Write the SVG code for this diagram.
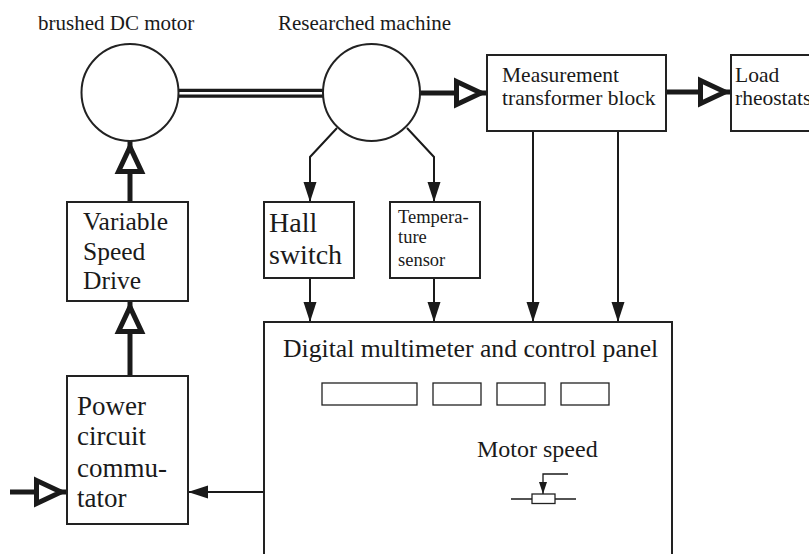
<svg xmlns="http://www.w3.org/2000/svg" width="809" height="554" viewBox="0 0 809 554">
<style>
.box{fill:#fff;stroke:#222;stroke-width:2}
.thin{fill:#fff;stroke:#222;stroke-width:1.3}
.t{font-family:"Liberation Serif","Times New Roman",serif;fill:#1a1a1a}
.w{fill:none;stroke:#1a1a1a;stroke-width:2}
.thick{fill:none;stroke:#1a1a1a;stroke-width:5}
</style>
<defs>
<marker id="fa" markerUnits="userSpaceOnUse" markerWidth="20" markerHeight="13" refX="20" refY="6.5" orient="auto" overflow="visible">
<path d="M0,0 L20,6.5 L0,13 z" fill="#1a1a1a"/>
</marker>
<marker id="fs" markerUnits="userSpaceOnUse" markerWidth="12" markerHeight="8" refX="12" refY="4" orient="auto" overflow="visible">
<path d="M0,0 L12,4 L0,8 z" fill="#1a1a1a"/>
</marker>
<marker id="oa" markerUnits="userSpaceOnUse" markerWidth="34" markerHeight="28" refX="33" refY="14" orient="auto" overflow="visible">
<path d="M2.5,2.5 L27,14 L2.5,25.5 z" fill="#fff" stroke="#1a1a1a" stroke-width="5"/>
</marker>
</defs>

<g id="connectors">
<line x1="178" y1="93.3" x2="323" y2="93.3" stroke="#1a1a1a" stroke-width="9"/>
<line x1="178" y1="93.3" x2="323" y2="93.3" stroke="#fff" stroke-width="2.6"/>
<line class="thick" x1="130" y1="202" x2="130" y2="141" marker-end="url(#oa)"/>
<line class="thick" x1="130" y1="376" x2="130" y2="301" marker-end="url(#oa)"/>
<line class="thick" x1="10" y1="492" x2="67" y2="492" marker-end="url(#oa)"/>
<line class="thick" x1="420" y1="93" x2="487" y2="93" marker-end="url(#oa)"/>
<line class="thick" x1="666" y1="92" x2="731" y2="92" marker-end="url(#oa)"/>
<polyline class="w" points="337,128 310,157 310,202" marker-end="url(#fa)"/>
<polyline class="w" points="407,128 434,157 434,202" marker-end="url(#fa)"/>
<line class="w" x1="310" y1="278" x2="310" y2="322" marker-end="url(#fa)"/>
<line class="w" x1="434" y1="278" x2="434" y2="322" marker-end="url(#fa)"/>
<line class="w" x1="533" y1="131" x2="533" y2="322" marker-end="url(#fa)"/>
<line class="w" x1="618" y1="131" x2="618" y2="322" marker-end="url(#fa)"/>
<line class="w" x1="264" y1="492" x2="188" y2="492" marker-end="url(#fa)"/>
</g>

<g id="dc-motor">
<circle class="box" cx="130" cy="92.5" r="48.5"/>
<text class="t" x="38" y="30" font-size="21">brushed DC motor</text>
</g>
<g id="researched-machine">
<circle class="box" cx="371.5" cy="92.5" r="48.5"/>
<text class="t" x="278" y="30" font-size="21">Researched machine</text>
</g>
<g id="measurement">
<rect class="box" x="487" y="55" width="179" height="76"/>
<text class="t" x="502" y="82" font-size="21.5">Measurement</text>
<text class="t" x="502" y="105" font-size="21.5">transformer block</text>
</g>
<g id="load">
<rect class="box" x="731" y="55" width="100" height="76"/>
<text class="t" x="735" y="82" font-size="21.5">Load</text>
<text class="t" x="735" y="105" font-size="21.5">rheostats</text>
</g>
<g id="vsd">
<rect class="box" x="67" y="202" width="121" height="99"/>
<text class="t" x="83" y="230" font-size="25.5">Variable</text>
<text class="t" x="83" y="260" font-size="25.5">Speed</text>
<text class="t" x="83" y="289" font-size="25.5">Drive</text>
</g>
<g id="hall">
<rect class="box" x="264" y="202" width="90" height="76"/>
<text class="t" x="269" y="232" font-size="28">Hall</text>
<text class="t" x="269" y="264" font-size="28">switch</text>
</g>
<g id="temperature">
<rect class="box" x="390" y="202" width="90" height="76"/>
<text class="t" x="398" y="223" font-size="18.5">Tempera-</text>
<text class="t" x="398" y="243" font-size="18.5">ture</text>
<text class="t" x="398" y="266" font-size="18.5">sensor</text>
</g>
<g id="power">
<rect class="box" x="67" y="376" width="121" height="148"/>
<text class="t" x="77" y="415" font-size="27">Power</text>
<text class="t" x="77" y="445" font-size="27">circuit</text>
<text class="t" x="77" y="477" font-size="27">commu-</text>
<text class="t" x="77" y="507" font-size="27">tator</text>
</g>
<g id="panel">
<rect class="box" x="264" y="322" width="408" height="250"/>
<text class="t" x="283" y="357" font-size="25.7">Digital multimeter and control panel</text>
<rect class="thin" x="322" y="383" width="95" height="22"/>
<rect class="thin" x="433" y="383" width="48" height="22"/>
<rect class="thin" x="497" y="383" width="48" height="22"/>
<rect class="thin" x="561" y="383" width="48" height="22"/>
<text class="t" x="477" y="457" font-size="24">Motor speed</text>
<line x1="511" y1="499" x2="576" y2="499" stroke="#1a1a1a" stroke-width="1.3"/>
<rect class="thin" x="532" y="494" width="23" height="9.5"/>
<polyline points="568,474 543,474 543,494" fill="none" stroke="#1a1a1a" stroke-width="1.3" marker-end="url(#fs)"/>
</g>
</svg>
